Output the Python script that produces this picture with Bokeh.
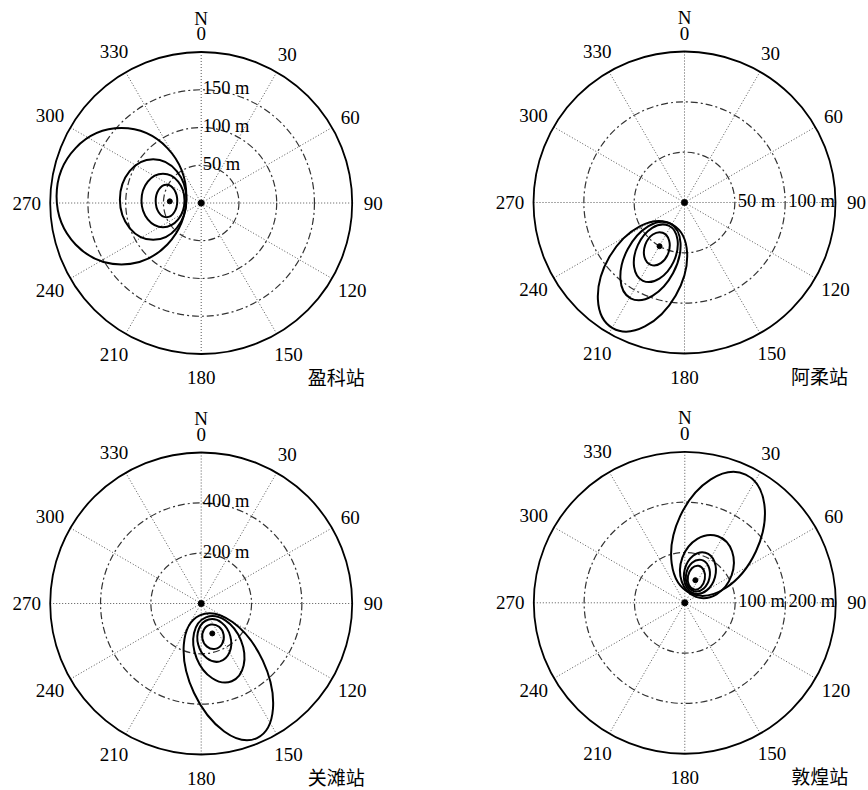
import numpy as np
from bokeh.plotting import figure
from bokeh.layouts import gridplot
from bokeh.models import Range1d
from bokeh.core.properties import value
from bokeh.embed import file_html
from bokeh.resources import INLINE

# ---------------- data ----------------
STATIONS = ["盈科站", "阿柔站", "关滩站", "敦煌站"]
OUTER_RADIUS_M = [200, 150, 600, 300]
RING_RADII_M = [[50, 100, 150], [50, 100], [200, 400], [100, 200]]
RING_LABELS = [["50 m", "100 m", "150 m"], ["50 m", "100 m"], ["200 m", "400 m"], ["100 m", "200 m"]]
RING_LABEL_SIDE = ["north", "east", "north", "east"]
DIRECTION_TICKS = [0, 30, 60, 90, 120, 150, 180, 210, 240, 270, 300, 330]
DIRECTION_LABELS = ["0", "30", "60", "90", "120", "150", "180", "210", "240", "270", "300", "330"]

# footprint contours: centre (m east, m north of tower), semi-axes (m), orientation (deg, CCW from east)
YK_CX = [-46.0, -50.6, -63.6, -105.6]
YK_CY = [2.6, 3.3, 4.6, 8.9]
YK_SEMI_MAJOR = [21.5, 35.3, 53.4, 90.3]
YK_SEMI_MINOR = [14.3, 28.5, 44.1, 86.0]
YK_ANGLE = [90, 90, 90, 90]
YK_PEAK_X, YK_PEAK_Y = [-41.6], [2.2]

AR_CX = [-27.5, -28.5, -33.8, -41.7]
AR_CY = [-46.0, -50.4, -58.1, -73.3]
AR_SEMI_MAJOR = [17.0, 30.2, 42.0, 59.4]
AR_SEMI_MINOR = [12.2, 19.6, 25.5, 38.1]
AR_ANGLE = [70, 65, 62, 60]
AR_PEAK_X, AR_PEAK_Y = [-24.8], [-43.4]

GT_CX = [47.0, 52.0, 70.0, 108.0]
GT_CY = [-132.0, -147.0, -182.0, -291.0]
GT_SEMI_MAJOR = [49.0, 86.0, 137.0, 269.0]
GT_SEMI_MINOR = [43.0, 66.0, 95.0, 151.0]
GT_ANGLE = [-80, -75, -68, -65]
GT_PEAK_X, GT_PEAK_Y = [44.0], [-119.0]

DH_CX = [23.0, 26.0, 30.0, 44.0, 66.0]
DH_CY = [50.0, 54.0, 59.0, 72.0, 137.0]
DH_SEMI_MAJOR = [24.0, 32.0, 42.0, 64.0, 130.0]
DH_SEMI_MINOR = [17.0, 23.5, 31.0, 52.0, 83.0]
DH_ANGLE = [80, 78, 75, 70, 65]
DH_PEAK_X, DH_PEAK_Y = [21.0], [45.0]

CONTOURS = [
    (YK_CX, YK_CY, YK_SEMI_MAJOR, YK_SEMI_MINOR, YK_ANGLE, YK_PEAK_X, YK_PEAK_Y),
    (AR_CX, AR_CY, AR_SEMI_MAJOR, AR_SEMI_MINOR, AR_ANGLE, AR_PEAK_X, AR_PEAK_Y),
    (GT_CX, GT_CY, GT_SEMI_MAJOR, GT_SEMI_MINOR, GT_ANGLE, GT_PEAK_X, GT_PEAK_Y),
    (DH_CX, DH_CY, DH_SEMI_MAJOR, DH_SEMI_MINOR, DH_ANGLE, DH_PEAK_X, DH_PEAK_Y),
]

# ---------------- layout ----------------
PW, PH = 434, 395
OUTER_PX = 151.0
CENTER_PX = [(200.7, 202.5), (250.0, 202.0), (200.7, 208.0), (250.3, 207.3)]
SERIF = value("Liberation Serif")
CJK = value("Noto Sans CJK SC")


def make_panel(i):
    R = OUTER_RADIUS_M[i]
    k = OUTER_PX / R  # px per metre
    cx, cy = CENTER_PX[i]
    p = figure(width=PW, height=PH, output_backend="svg", toolbar_location=None,
               x_axis_type=None, y_axis_type=None,
               x_range=Range1d(-cx / k, (PW - cx) / k),
               y_range=Range1d(-(PH - cy) / k, cy / k),
               min_border=0, outline_line_color=None,
               background_fill_color="white", border_fill_color="white")
    p.xgrid.visible = False
    p.ygrid.visible = False

    # radial dotted lines
    th = np.deg2rad(np.array(DIRECTION_TICKS, dtype=float))
    p.segment(x0=np.zeros_like(th), y0=np.zeros_like(th),
              x1=R * np.sin(th), y1=R * np.cos(th),
              line_color="#555555", line_width=1, line_dash="1 2")
    # dash-dot range rings
    rings = RING_RADII_M[i]
    p.circle(x=[0] * len(rings), y=[0] * len(rings), radius=rings,
             fill_color=None, line_color="#333333", line_width=1.2, line_dash="7 3 2 3")
    # outer circle
    p.circle(x=[0], y=[0], radius=[R], fill_color=None, line_color="black", line_width=1.8)

    # footprint contours
    ex, ey, ea, eb, eang, pkx, pky = CONTOURS[i]
    p.ellipse(x=ex, y=ey, width=[2 * a for a in ea], height=[2 * b for b in eb],
              angle=eang, angle_units="deg", fill_color=None,
              line_color="black", line_width=2)
    p.scatter(x=pkx, y=pky, size=5, color="black")
    p.scatter(x=[0], y=[0], size=6, color="black")

    # ring labels
    if RING_LABEL_SIDE[i] == "north":
        p.text(x=[1.5 / k] * len(rings), y=[r + 1.5 / k for r in rings], text=RING_LABELS[i],
               text_align="left", text_baseline="alphabetic", text_font=SERIF,
               text_font_size="18.5px", text_color="black")
    else:
        p.text(x=[r + 3 / k for r in rings], y=[1.5 / k] * len(rings), text=RING_LABELS[i],
               text_align="left", text_baseline="alphabetic", text_font=SERIF,
               text_font_size="18.5px", text_color="black")

    # direction labels
    lr = np.array([(167 + 2.5 * len(s)) / k for s in DIRECTION_LABELS])
    p.text(x=lr * np.sin(th), y=lr * np.cos(th), text=DIRECTION_LABELS,
           text_align="center", text_baseline="middle", text_font=SERIF,
           text_font_size="19px", text_color="black")
    p.text(x=[0], y=[185 / k], text=["N"], text_align="center", text_baseline="middle",
           text_font=SERIF, text_font_size="19px", text_color="black")

    # station name
    p.text(x=[135 / k], y=[-173 / k], text=[STATIONS[i]], text_align="center",
           text_baseline="middle", text_font=CJK, text_font_size="19px", text_color="black")
    return p


panels = [make_panel(i) for i in range(4)]
grid = gridplot([[panels[0], panels[1]], [panels[2], panels[3]]], toolbar_location=None)

open("out.html", "w").write(file_html(grid, INLINE))
